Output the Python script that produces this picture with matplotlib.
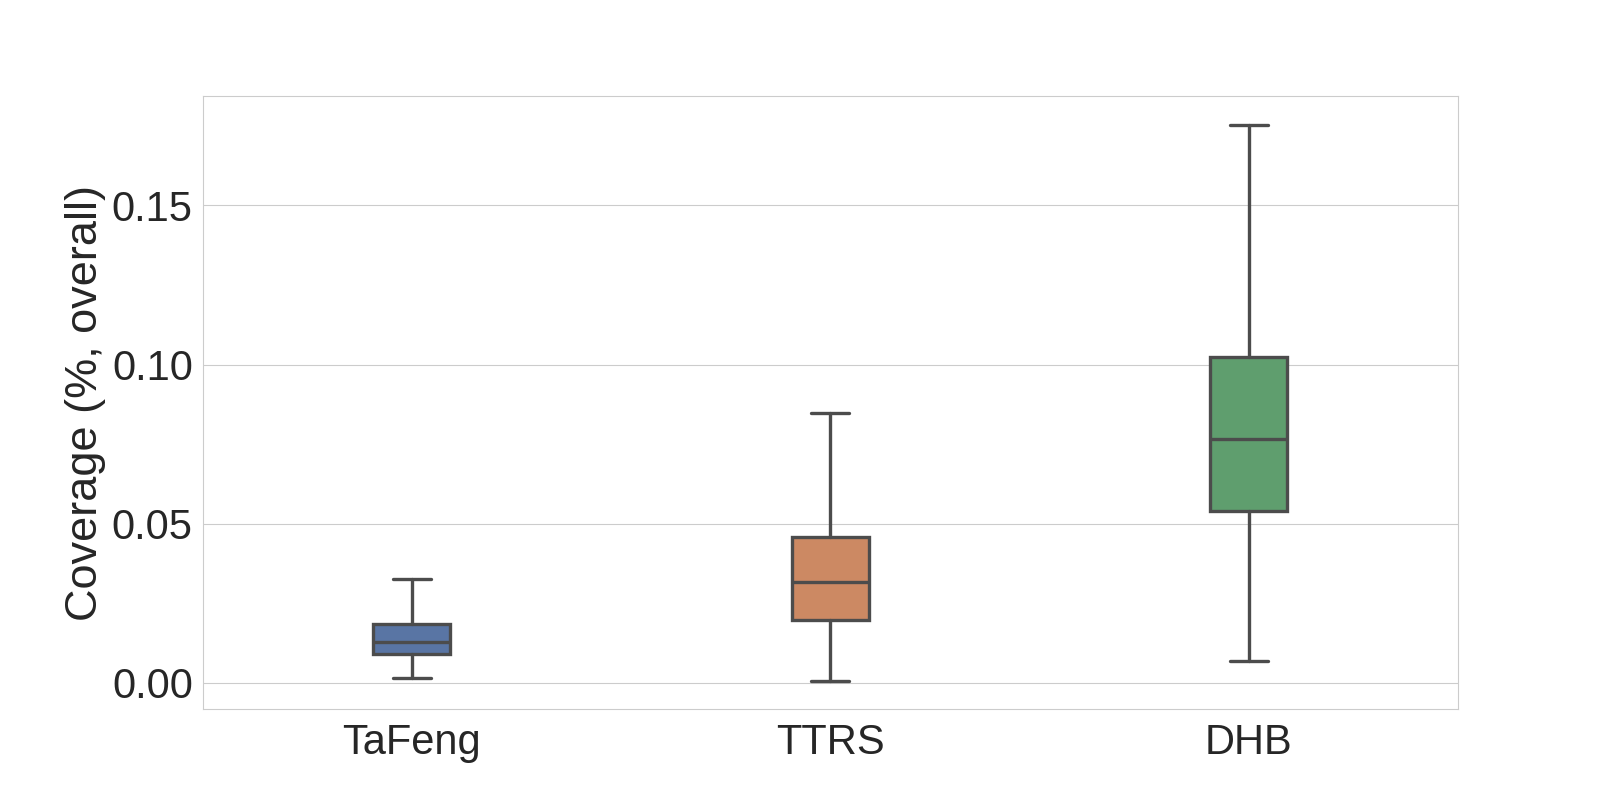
import matplotlib.pyplot as plt
import seaborn as sns

sns.set_style('whitegrid')
plt.rcParams['font.family'] = ['Liberation Sans', 'DejaVu Sans']

datasets = ['TaFeng', 'TTRS', 'DHB']
whislo = [0.0016, 0.0006, 0.0068]
q1 = [0.0091, 0.0198, 0.0539]
med = [0.0130, 0.0318, 0.0766]
q3 = [0.0185, 0.0458, 0.1023]
whishi = [0.0328, 0.0847, 0.1753]
colors = ['#5975a4', '#cc8963', '#5f9e6e']

stats = []
for i, name in enumerate(datasets):
    stats.append(dict(label=name, whislo=whislo[i], q1=q1[i], med=med[i],
                      q3=q3[i], whishi=whishi[i], fliers=[]))

fig, ax = plt.subplots(figsize=(16.2, 8.1), dpi=100)
fig.subplots_adjust(left=0.125, right=0.900, top=0.881, bottom=0.125)

line_col = '#4c4c4c'
lw = 2.4
bp = ax.bxp(stats, positions=range(len(datasets)), widths=0.185,
            patch_artist=True, showfliers=False,
            boxprops=dict(edgecolor=line_col, linewidth=lw),
            medianprops=dict(color=line_col, linewidth=lw),
            whiskerprops=dict(color=line_col, linewidth=lw),
            capprops=dict(color=line_col, linewidth=lw),
            capwidths=0.09)
for patch, c in zip(bp['boxes'], colors):
    patch.set_facecolor(c)

ax.set_xlim(-0.5, 2.5)
ax.set_ylim(-0.0081, 0.1842)
ax.set_yticks([0.0, 0.05, 0.10, 0.15])
ax.set_yticklabels(['0.00', '0.05', '0.10', '0.15'])
ax.xaxis.grid(False)
ax.tick_params(axis='both', labelsize=30, colors='#262626')
ax.tick_params(axis='x', pad=7)
ax.set_ylabel('Coverage (%, overall)', fontsize=32.5, color='#262626')

fig.savefig('out.png')
